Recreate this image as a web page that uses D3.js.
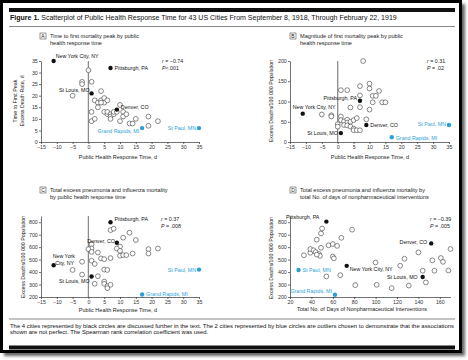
<!DOCTYPE html>
<html><head><meta charset="utf-8">
<script src="https://cdn.jsdelivr.net/npm/d3@7"></script>
<style>body{margin:0;background:#fff}svg{display:block}text{font-family:"Liberation Sans",Arial,sans-serif}</style>
</head><body><svg id="c" width="468" height="360"></svg>
<script>
// ---------------- DATA ----------------
const titleBold = "Figure 1.";
const titleRest = " Scatterplot of Public Health Response Time for 43 US Cities From September 8, 1918, Through February 22, 1919";
const footLine1 = "The 4 cities represented by black circles are discussed further in the text. The 2 cities represented by blue circles are outliers chosen to demonstrate that the associations";
const footLine2 = "shown are not perfect. The Spearman rank correlation coefficient was used.";

const blackNames = ["New York City, NY", "Pittsburgh, PA", "St Louis, MO", "Denver, CO"];
const blueNames = ["Grand Rapids, MI", "St Paul, MN"];

const respTicks = [-15, -10, -5, 0, 5, 10, 15, 20, 25, 30, 35];
const npiTicks = [20, 40, 60, 80, 100, 120, 140, 160];
const aYTicks = [0, 5, 10, 15, 20, 25, 30, 35];
const bYTicks = [0, 50, 100, 150, 200];
const cdYTicks = [200, 300, 400, 500, 600, 700, 800];

// Panel A: time to first peak (d) vs response time (d)
const aBlackX = [-11, 7, 1, 9], aBlackY = [35, 32, 21, 14];
const aBlueX = [17, 35], aBlueY = [6, 6];
const aOpenX = [0, -2, -2, 1, -5, 4, 1, 1, 2, 2, 3, 3, 4, 5, 5, 6, 4, 5, 6, 6, 7, 7, 7, 8, 8, 9, 10, 10, 11, 11, 12, 13, 14, 15, 19, 19, 22];
const aOpenY = [31, 26, 25, 26, 20, 22, 13, 9, 10, 18, 17, 15, 18, 19, 17, 18, 17, 13, 12, 13, 12, 11, 10, 12, 13, 13, 16, 9, 13, 11, 12, 8, 8, 10, 11, 7, 9];

// Panel B: magnitude of first peak vs response time
const bBlackX = [-11, 7, 1, 9], bBlackY = [70, 102, 22, 42];
const bBlueX = [17, 35], bBlueY = [12, 42];
const bOpenX = [-5, -2, -2, 0, 0, 1, 1, 2, 3, 3, 2, 3, 4, 5, 6, 4, 5, 5, 6, 7, 9, 4, 7, 10, 7, 1, 3, 7, 10, 10, 13, 11, 12, 11, 14, 15, 8];
const bOpenY = [68, 66, 63, 44, 38, 63, 54, 51, 55, 48, 42, 41, 50, 54, 59, 38, 33, 29, 29, 29, 56, 85, 86, 80, 115, 128, 128, 138, 144, 132, 126, 114, 114, 98, 98, 98, 200];

// Panel C: total excess mortality vs response time
const cBlackX = [-11, 7, 1, 9], cBlackY = [455, 800, 365, 635];
const cBlueX = [17, 35], cBlueY = [220, 420];
const cOpenX = [7, 8, 13, 11, 15, 1, 1, 0, 1, 10, 9, 10, 10, 11, 12, 14, 19, 19, 22, 3, 4, 5, 7, -2, 1, 2, -5, -2, 5, 6, 3, 2, 5, 5, 6, 7, 6];
const cOpenY = [737, 748, 716, 676, 657, 623, 590, 584, 562, 605, 589, 570, 531, 536, 536, 549, 584, 549, 589, 557, 510, 504, 512, 483, 491, 465, 417, 380, 420, 417, 367, 306, 324, 306, 287, 298, 271];

// Panel D: total excess mortality vs total days of NPI
const dBlackX = [73, 54, 144, 152], dBlackY = [450, 805, 360, 630];
const dBlueX = [62, 28], dBlueY = [218, 417];
const dOpenX = [33, 39, 39, 42, 44, 45, 47, 48, 49, 49, 50, 54, 56, 60, 60, 61, 64, 67, 68, 78, 81, 100, 101, 115, 123, 127, 131, 140, 144, 147, 153, 155, 161, 163, 168, 170, 45];
const dOpenY = [535, 555, 585, 575, 560, 660, 545, 530, 595, 710, 750, 365, 615, 625, 525, 510, 610, 375, 675, 740, 295, 477, 298, 271, 451, 507, 292, 558, 411, 317, 494, 411, 513, 482, 413, 585, 540];

// ---------------- LAYOUT ----------------
const COLORS = {ink: "#111", axis: "#333", zero: "#8c8c8c", blue: "#2a9fd8", open: "#3a3a3a"};
const panels = [
  {id: "A", xDom: [-15, 35], yDom: [0, 35], xr: [41, 199], yr: [142, 61], xTicks: respTicks, yTicks: aYTicks, zero: true,
   bx: aBlackX, by: aBlackY, ux: aBlueX, uy: aBlueY, ox: aOpenX, oy: aOpenY,
   head: ["Time to first mortality peak by public", "health response time"], hx: 40, hy: 33,
   xl: "Public Health Response Time, d", xlx: 118, xly: 158.5,
   yl: ["Time to First Peak", "Excess Death Rate, d"], ylx: [17, 24], yly: 101,
   r: "−0.74", p: "<.001", rx: 162, ry: 63,
   bl: [[2, -3, "start"], [4, 2, "start"], [-2, -1, "end"], [4, -0.5, "start"]],
   ul: [[-3, 4.5, "end"], [-3, 2, "end"]]},
  {id: "B", xDom: [-15, 35], yDom: [0, 200], xr: [290, 449], yr: [142, 61], xTicks: respTicks, yTicks: bYTicks, zero: true,
   bx: bBlackX, by: bBlackY, ux: bBlueX, uy: bBlueY, ox: bOpenX, oy: bOpenY,
   head: ["Magnitude of first mortality peak by public", "health response time"], hx: 290, hy: 33,
   xl: "Public Health Response Time, d", xlx: 370, xly: 158.5,
   yl: ["Excess Deaths/100 000 Population"], ylx: [273], yly: 101,
   r: "0.31", p: " = .02", rx: 427, ry: 63,
   bl: [[-10, -4.5, "start"], [-3, -1, "end"], [-3, 1.5, "end"], [4, 2, "start"]],
   ul: [[4, 2.5, "start"], [-3, 1.5, "end"]]},
  {id: "C", xDom: [-15, 35], yDom: [200, 850], xr: [41, 199], yr: [297, 216], xTicks: respTicks, yTicks: cdYTicks, zero: true,
   bx: cBlackX, by: cBlackY, ux: cBlueX, uy: cBlueY, ox: cOpenX, oy: cOpenY,
   head: ["Total excess pneumonia and influenza mortality", "by public health response time"], hx: 40, hy: 187,
   xl: "Public Health Response Time, d", xlx: 118, xly: 312,
   yl: ["Excess Deaths/100 000 Population"], ylx: [25], yly: 257,
   r: "0.37", p: " = .008", rx: 161, ry: 221,
   bl: [[-1, -7, "start", ["New York", "City, NY"]], [4, -1, "start"], [-2, 6.5, "end"], [-2, 0, "end"]],
   ul: [[4, 1, "start"], [-3, 2, "end"]]},
  {id: "D", xDom: [20, 170], yDom: [200, 850], xr: [290, 450.5], yr: [297, 216], xTicks: npiTicks, yTicks: cdYTicks, zero: false,
   bx: dBlackX, by: dBlackY, ux: dBlueX, uy: dBlueY, ox: dOpenX, oy: dOpenY,
   head: ["Total excess pneumonia and influenza mortality by", "total No. of days of nonpharmaceutical interventions"], hx: 290, hy: 187,
   xl: "Total No. of Days of Nonpharmaceutical Interventions", xlx: 362, xly: 311,
   yl: ["Excess Deaths/100 000 Population"], ylx: [273], yly: 258,
   r: "−0.39", p: " = .005", rx: 430, ry: 221,
   bl: [[3, 5, "start"], [-7, -3, "end"], [-5, 2, "end"], [-4, 0.5, "end"]],
   ul: [[-3, -2, "end"], [4, 2, "start"]]}
];

// ---------------- DRAW ----------------
const svg = d3.select("#c");
const defs = svg.append("defs");
defs.append("filter").attr("id", "sh").append("feGaussianBlur").attr("stdDeviation", 1.5);

svg.append("rect").attr("x", 4).attr("y", 4).attr("width", 461).attr("height", 352).attr("fill", "#666").attr("filter", "url(#sh)");
svg.append("rect").attr("x", 1.5).attr("y", 1.5).attr("width", 459).attr("height", 350)
  .attr("fill", "#fff").attr("stroke", "#000").attr("stroke-width", 3);
svg.append("rect").attr("x", 9).attr("y", 8).attr("width", 446).attr("height", 4).attr("fill", "#111");
svg.append("rect").attr("x", 9).attr("y", 345.5).attr("width", 446).attr("height", 4).attr("fill", "#111");
svg.append("line").attr("x1", 9).attr("x2", 455).attr("y1", 26.5).attr("y2", 26.5).attr("stroke", "#555").attr("stroke-width", 0.7);
svg.append("line").attr("x1", 9).attr("x2", 455).attr("y1", 319).attr("y2", 319).attr("stroke", "#555").attr("stroke-width", 0.7);

function fit(sel, target) {
  const w = sel.node().getComputedTextLength();
  const fs = parseFloat(sel.attr("font-size"));
  sel.attr("font-size", fs * target / w);
}
const title = svg.append("text").attr("x", 10).attr("y", 19.5).attr("font-size", 7).attr("fill", "#111");
title.append("tspan").attr("font-weight", "bold").text(titleBold);
title.append("tspan").text(titleRest);
fit(title, 387);

const f1 = svg.append("text").attr("x", 10).attr("y", 327.5).attr("font-size", 5.5).attr("fill", "#111").text(footLine1);
fit(f1, 445);
svg.append("text").attr("x", 10).attr("y", 334).attr("font-size", f1.attr("font-size")).attr("fill", "#111").text(footLine2);

panels.forEach(P => {
  const g = svg.append("g");
  const x = d3.scaleLinear().domain(P.xDom).range(P.xr);
  const y = d3.scaleLinear().domain(P.yDom).range(P.yr);

  // header
  g.append("rect").attr("x", P.hx).attr("y", P.hy).attr("width", 6).attr("height", 6)
    .attr("fill", "none").attr("stroke", "#333").attr("stroke-width", 0.5);
  g.append("text").attr("x", P.hx + 3).attr("y", P.hy + 5).attr("text-anchor", "middle").attr("font-size", 5).attr("fill", "#222").text(P.id);
  P.head.forEach((t, i) => g.append("text").attr("x", P.hx + 10).attr("y", P.hy + 5 + i * 7)
    .attr("font-size", 5.6).attr("fill", "#222").text(t));

  // zero line
  if (P.zero) g.append("line").attr("x1", x(0)).attr("x2", x(0)).attr("y1", y(P.yDom[0])).attr("y2", y(P.yDom[1]))
    .attr("stroke", COLORS.zero).attr("stroke-width", 1.3);

  // axes
  const ax = g.append("g").attr("transform", `translate(0,${P.yr[0]})`)
    .call(d3.axisBottom(x).tickValues(P.xTicks).tickSize(2).tickPadding(1.2).tickSizeOuter(0));
  const ay = g.append("g").attr("transform", `translate(${P.xr[0]},0)`)
    .call(d3.axisLeft(y).tickValues(P.yTicks).tickSize(2).tickPadding(1.2).tickSizeOuter(0).tickFormat(d3.format("d")));
  [ax, ay].forEach(a => {
    a.selectAll("path,line").attr("stroke", COLORS.axis).attr("stroke-width", 0.7);
    a.selectAll("text").attr("font-size", 5.3).attr("fill", "#333").attr("font-family", "Liberation Sans, Arial, sans-serif");
  });

  // axis labels
  g.append("text").attr("x", P.xlx).attr("y", P.xly).attr("text-anchor", "middle").attr("font-size", 5.5).attr("fill", "#222").text(P.xl);
  P.yl.forEach((t, i) => g.append("text").attr("transform", `translate(${P.ylx[i]},${P.yly}) rotate(-90)`)
    .attr("text-anchor", "middle").attr("font-size", 5.3).attr("fill", "#222").text(t));

  // r / P
  const rt = g.append("text").attr("x", P.rx).attr("y", P.ry).attr("font-size", 5.3).attr("fill", "#222");
  rt.append("tspan").attr("font-style", "italic").text("r");
  rt.append("tspan").text(" = " + P.r);
  const pt = g.append("text").attr("x", P.rx).attr("y", P.ry + 7).attr("font-size", 5.3).attr("fill", "#222");
  pt.append("tspan").attr("font-style", "italic").text("P");
  pt.append("tspan").text(P.p);

  // open circles
  g.selectAll("circle.o").data(P.ox.map((v, i) => [v, P.oy[i]])).join("circle").attr("class", "o")
    .attr("cx", d => x(d[0])).attr("cy", d => y(d[1])).attr("r", 2.4)
    .attr("fill", "#fff").attr("stroke", COLORS.open).attr("stroke-width", 0.6);

  // black cities
  P.bx.forEach((v, i) => {
    const cx = x(v), cy = y(P.by[i]);
    g.append("circle").attr("cx", cx).attr("cy", cy).attr("r", 2.2).attr("fill", COLORS.ink);
    const L = P.bl[i];
    const lines = L[3] || [blackNames[i]];
    lines.forEach((t, k) => g.append("text").attr("x", cx + L[0] + (k ? 2.5 : 0)).attr("y", cy + L[1] + k * 6.5)
      .attr("text-anchor", L[2]).attr("font-size", 5.3).attr("fill", "#111").text(t));
  });
  // blue outliers
  P.ux.forEach((v, i) => {
    const cx = x(v), cy = y(P.uy[i]);
    g.append("circle").attr("cx", cx).attr("cy", cy).attr("r", 2.2).attr("fill", COLORS.blue);
    const L = P.ul[i];
    g.append("text").attr("x", cx + L[0]).attr("y", cy + L[1]).attr("text-anchor", L[2])
      .attr("font-size", 5.3).attr("fill", COLORS.blue).text(blueNames[i]);
  });
});
</script></body></html>
